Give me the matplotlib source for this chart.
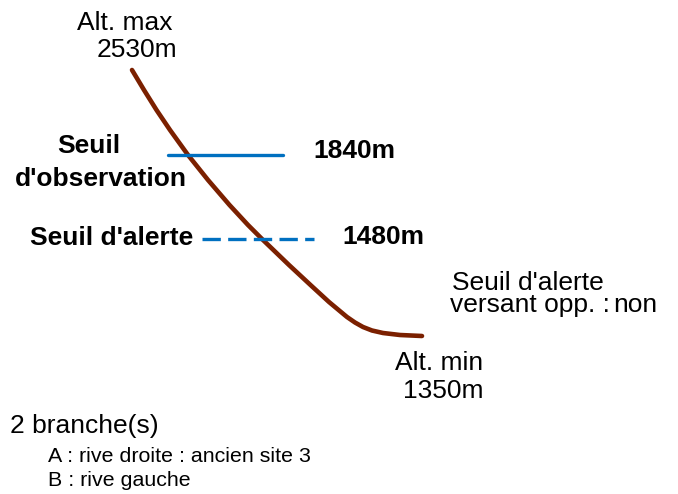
"""Schéma du profil en altitude avec seuils"""

import matplotlib.pyplot as plt

plt.rcParams["font.family"] = ["Liberation Sans", "DejaVu Sans"]

# profil schématique (coordonnées du schéma)
profil_x = [132, 144, 156.5, 170, 188, 208, 229.5, 248, 262, 289, 310.5, 329, 347,
            355, 363, 372, 383, 400, 422]
profil_y = [70, 90, 110, 130, 155, 180, 205, 225, 239, 265, 285, 302, 317,
            322.5, 327, 330.5, 333, 335, 336]

alt_max = 2530
alt_min = 1350
seuil_obs = 1840
seuil_alerte = 1480
versant_opp = "non"
nb_branches = 2
branches = ["A : rive droite : ancien site 3", "B : rive gauche"]

fig = plt.figure(figsize=(6.78, 4.94), dpi=100)
ax = fig.add_axes([0, 0, 1, 1])
ax.set_xlim(0, 678)
ax.set_ylim(494, 0)
ax.axis("off")

brun = "#7B2000"
bleu = "#0070C0"

ax.plot(profil_x, profil_y, color=brun, linewidth=3.3, solid_capstyle="round",
        solid_joinstyle="round")

# seuils
ax.plot([168, 283], [155, 155], color=bleu, linewidth=2.4, solid_capstyle="round")
ax.plot([202, 314], [239, 239], color=bleu, linewidth=2.4, linestyle=(0, (5.5, 2.2)))

fs = 19
ax.text(77, 30, "Alt. max", fontsize=fs)
ax.text(97, 57, f"{alt_max}m", fontsize=fs)
ax.text(57, 153, "Seuil", fontsize=fs, fontweight="bold")
ax.text(15, 186, "d'observation", fontsize=fs, fontweight="bold")
ax.text(313, 158, f"{seuil_obs}m", fontsize=fs, fontweight="bold")
ax.text(30, 245, "Seuil d'alerte", fontsize=fs, fontweight="bold")
ax.text(342, 244, f"{seuil_alerte}m", fontsize=fs, fontweight="bold")

ax.text(452, 290, "Seuil d'alerte", fontsize=fs)
ax.text(450, 312, "versant opp. :", fontsize=fs)
ax.text(613, 312, versant_opp, fontsize=fs)

ax.text(395, 370, "Alt. min", fontsize=fs)
ax.text(403, 398, f"{alt_min}m", fontsize=fs)

ax.text(10, 433, f"{nb_branches} branche(s)", fontsize=fs)
for i, b in enumerate(branches):
    ax.text(48, 462 + 24 * i, b, fontsize=15.4)

plt.savefig("out.png", dpi=100)
plt.close()
